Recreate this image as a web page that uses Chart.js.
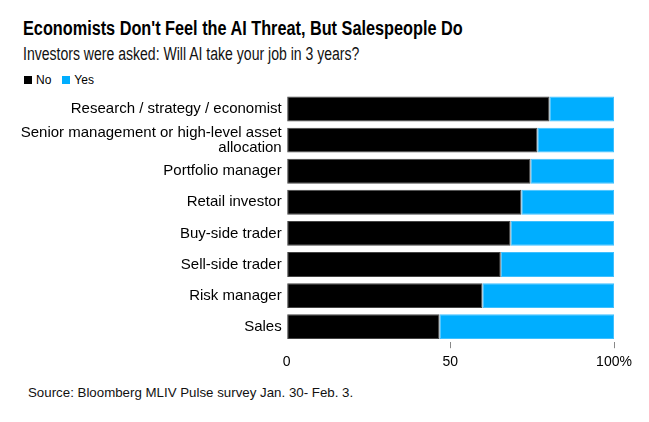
<!DOCTYPE html>
<html>
<head>
<meta charset="utf-8">
<script src="https://cdn.jsdelivr.net/npm/chart.js@4.4.1/dist/chart.umd.min.js"></script>
<style>
  html, body { margin: 0; padding: 0; background: #fff; }
  body { width: 649px; height: 422px; position: relative; overflow: hidden; font-family: "Liberation Sans", Arial, sans-serif; color: #000; }
  .txt { position: absolute; white-space: nowrap; transform-origin: left top; }
  #title { left: 23px; top: 17px; font-size: 20px; font-weight: bold; transform: scaleX(0.813); }
  #subtitle { left: 23px; top: 44px; font-size: 18px; transform: scaleX(0.78); color: #111; }
  #legend { left: 24px; top: 73px; font-size: 12px; }
  #legend span.sw { display: inline-block; width: 8px; height: 8px; margin-right: 4px; }
  #legend span.item { margin-right: 11px; }
  #source { left: 28px; top: 385px; font-size: 13.3px; color: #111; }
  #wrap { position: absolute; left: 0; top: 81px; width: 649px; height: 303px; }
</style>
</head>
<body>
<div id="title" class="txt">Economists Don't Feel the AI Threat, But Salespeople Do</div>
<div id="subtitle" class="txt">Investors were asked: Will AI take your job in 3 years?</div>
<div id="legend" class="txt"><span class="item"><span class="sw" style="background:#000"></span>No</span><span class="item"><span class="sw" style="background:#00aeff"></span>Yes</span></div>
<div id="wrap"><canvas id="myChart"></canvas></div>
<div id="source" class="txt">Source: Bloomberg MLIV Pulse survey Jan. 30- Feb. 3.</div>
<script>
const categories = [
  "Research / strategy / economist",
  ["Senior management or high-level asset", "allocation"],
  "Portfolio manager",
  "Retail investor",
  "Buy-side trader",
  "Sell-side trader",
  "Risk manager",
  "Sales"
];
const noValues = [80.3, 76.6, 74.5, 71.7, 68.4, 65.4, 59.8, 46.7];
const yesValues = noValues.map((v) => 100 - v);
const xTicks = [0, 50, 100];

let ctx = document.getElementById("myChart").getContext("2d");
let currentChart = new Chart(ctx, {
  type: "bar",
  data: {
    labels: categories,
    datasets: [
      {
        label: "No",
        data: noValues,
        backgroundColor: "#000000",
        borderColor: "#444444",
        borderWidth: 1,
        borderSkipped: false,
        barPercentage: 0.8,
        categoryPercentage: 1
      },
      {
        label: "Yes",
        data: yesValues,
        backgroundColor: "#00aeff",
        borderColor: "#40c0ff",
        borderWidth: 1,
        borderSkipped: false,
        barPercentage: 0.8,
        categoryPercentage: 1
      }
    ]
  },
  options: {
    indexAxis: "y",
    responsive: true,
    maintainAspectRatio: false,
    animation: false,
    layout: { padding: { top: 5, bottom: 7, left: 0, right: 35 } },
    plugins: {
      legend: { display: false },
      tooltip: { enabled: false }
    },
    scales: {
      x: {
        stacked: true,
        min: 0,
        max: 100,
        afterBuildTicks: (axis) => {
          axis.ticks = xTicks.map((v) => ({ value: v }));
        },
        border: { display: false },
        grid: {
          drawOnChartArea: false,
          drawTicks: true,
          tickLength: 6,
          color: (c) => (c.tick && c.tick.value === 0 ? "rgba(0,0,0,0)" : "#888888")
        },
        ticks: {
          padding: 6,
          color: "#000",
          font: { family: "Liberation Sans", size: 14 },
          maxRotation: 0,
          callback: (v) => (v === 100 ? "100%" : v)
        }
      },
      y: {
        stacked: true,
        afterFit: (axis) => {
          axis.width = 286.7;
        },
        border: { display: false },
        grid: { display: false, drawTicks: false },
        ticks: {
          autoSkip: false,
          padding: 5,
          color: "#000",
          font: { family: "Liberation Sans", size: 15, lineHeight: 1 }
        }
      }
    }
  }
});
</script>
</body>
</html>
